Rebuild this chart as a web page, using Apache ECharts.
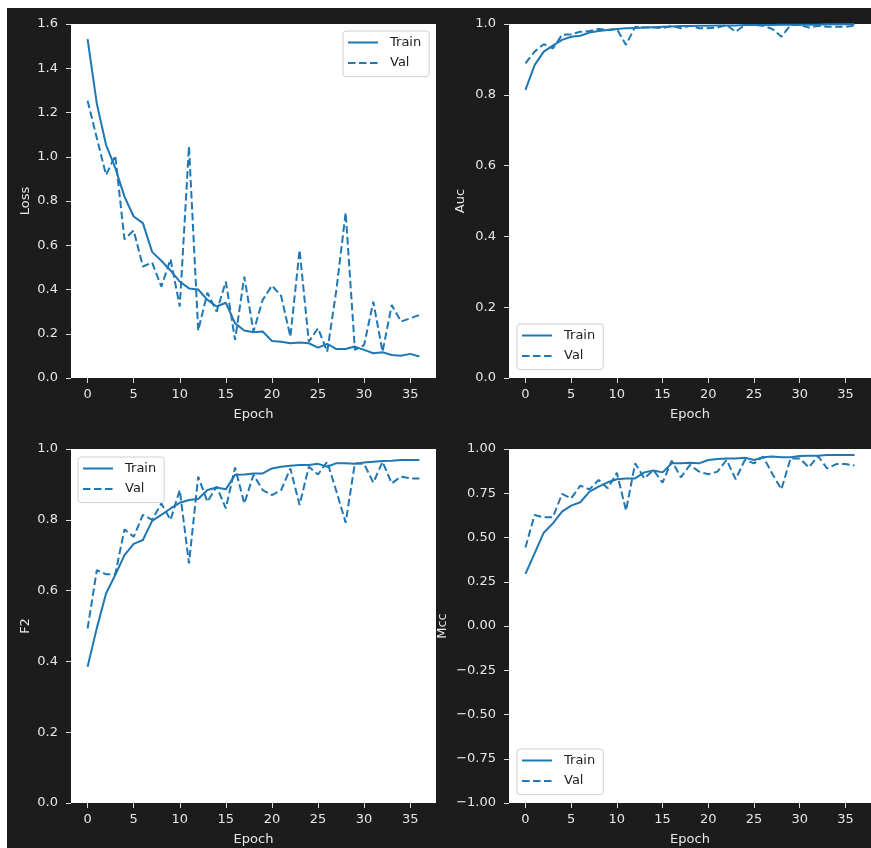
<!DOCTYPE html>
<html><head><meta charset="utf-8">
<script src="https://cdn.jsdelivr.net/npm/echarts@6/dist/echarts.min.js"></script>
<style>
html,body{margin:0;padding:0;background:#fff;}
#bg{position:absolute;left:7px;top:8px;width:864px;height:840px;background:#1c1c1c;}
#chart{position:absolute;left:0;top:0;width:871px;height:848px;}
</style></head><body><div id="bg"></div><div id="chart"></div>
<script>
const epochs = [0,1,2,3,4,5,6,7,8,9,10,11,12,13,14,15,16,17,18,19,20,21,22,23,24,25,26,27,28,29,30,31,32,33,34,35,36];
const xTicks = [0,5,10,15,20,25,30,35];
const lossTrain = [1.532,1.24,1.054,0.95,0.82,0.73,0.70,0.57,0.53,0.486,0.436,0.405,0.40,0.353,0.323,0.34,0.247,0.215,0.207,0.21,0.167,0.164,0.157,0.16,0.157,0.137,0.154,0.131,0.131,0.142,0.127,0.112,0.116,0.104,0.101,0.109,0.097];
const lossVal = [1.253,1.085,0.918,1.005,0.627,0.667,0.504,0.522,0.413,0.537,0.323,1.047,0.214,0.386,0.30,0.436,0.172,0.458,0.21,0.353,0.418,0.371,0.187,0.579,0.164,0.225,0.119,0.40,0.748,0.127,0.149,0.345,0.119,0.33,0.255,0.27,0.285];
const aucTrain = [0.814,0.884,0.922,0.939,0.955,0.964,0.967,0.976,0.98,0.983,0.986,0.988,0.989,0.99,0.991,0.992,0.993,0.994,0.994,0.995,0.995,0.996,0.996,0.996,0.997,0.997,0.997,0.997,0.998,0.998,0.998,0.998,0.998,0.999,0.999,0.999,0.999];
const aucVal = [0.889,0.922,0.943,0.931,0.969,0.971,0.978,0.98,0.986,0.983,0.986,0.941,0.992,0.99,0.99,0.988,0.995,0.988,0.995,0.988,0.988,0.99,0.997,0.978,0.997,0.997,0.995,0.986,0.964,0.997,0.997,0.99,0.995,0.992,0.992,0.992,0.995];
const f2Train = [0.385,0.494,0.592,0.644,0.70,0.732,0.743,0.797,0.814,0.832,0.848,0.856,0.859,0.884,0.891,0.886,0.927,0.928,0.931,0.931,0.945,0.95,0.953,0.955,0.955,0.958,0.95,0.96,0.96,0.958,0.962,0.964,0.966,0.967,0.969,0.969,0.969];
const f2Val = [0.493,0.658,0.646,0.646,0.773,0.752,0.814,0.80,0.846,0.80,0.884,0.677,0.922,0.851,0.894,0.832,0.948,0.846,0.927,0.884,0.87,0.884,0.945,0.842,0.95,0.928,0.964,0.88,0.792,0.96,0.958,0.905,0.964,0.903,0.922,0.917,0.917];
const mccTrain = [0.294,0.41,0.527,0.58,0.646,0.68,0.699,0.759,0.787,0.812,0.829,0.834,0.834,0.868,0.878,0.868,0.919,0.919,0.923,0.919,0.938,0.944,0.947,0.947,0.951,0.938,0.953,0.957,0.953,0.953,0.96,0.962,0.962,0.966,0.966,0.966,0.966];
const mccVal = [0.444,0.627,0.614,0.614,0.746,0.721,0.793,0.772,0.825,0.778,0.866,0.652,0.919,0.834,0.881,0.81,0.934,0.84,0.91,0.872,0.857,0.872,0.938,0.829,0.938,0.919,0.957,0.86,0.772,0.947,0.947,0.896,0.96,0.89,0.915,0.915,0.906];
const metricNames = ['Loss','Auc','F2','Mcc'];
const seriesNames = ['Train','Val'];

const FONT = 'DejaVu Sans';
const TXT = '#e6e6e6';
const LINE = '#1f77b4';

const grids = [
  {left:71, top:24, width:365, height:354},
  {left:509, top:24, width:365, height:354},
  {left:71, top:449, width:365, height:354},
  {left:509, top:449, width:365, height:354}
];
const yRanges = [
  {min:0, max:1.6, interval:0.2, fmt:v=>v.toFixed(1), gap:39},
  {min:0, max:1, interval:0.2, fmt:v=>v.toFixed(1), gap:42},
  {min:0, max:1, interval:0.2, fmt:v=>v.toFixed(1), gap:39},
  {min:-1, max:1, interval:0.25, fmt:v=>v.toFixed(2).replace('-','\u2212'), gap:60}
];
const pairs = [[lossTrain,lossVal],[aucTrain,aucVal],[f2Train,f2Val],[mccTrain,mccVal]];
const legendPos = [
  {left:343, top:31},
  {left:517, top:324},
  {left:78, top:457},
  {left:517, top:749}
];

const option = {
  backgroundColor: 'transparent',
  animation: false,
  textStyle: {fontFamily: FONT},
  grid: grids.map(g => Object.assign({show:true, backgroundColor:'#ffffff', borderWidth:0}, g)),
  xAxis: grids.map((g,i) => ({
    type:'value', gridIndex:i, min:-1.8, max:37.8,
    name:'Epoch', nameLocation:'middle', nameGap:30,
    nameTextStyle:{color:TXT, fontSize:13, fontFamily:FONT},
    axisLine:{show:false, onZero:false},
    splitLine:{show:false},
    axisTick:{show:true, inside:false, length:5, lineStyle:{color:'#dddddd', width:1}, customValues:xTicks},
    axisLabel:{color:TXT, fontSize:13, fontFamily:FONT, margin:10, customValues:xTicks}
  })),
  yAxis: grids.map((g,i) => ({
    type:'value', gridIndex:i, min:yRanges[i].min, max:yRanges[i].max, interval:yRanges[i].interval,
    name:metricNames[i], nameLocation:'middle', nameGap:yRanges[i].gap,
    nameTextStyle:{color:TXT, fontSize:13, fontFamily:FONT},
    axisLine:{show:false, onZero:false},
    splitLine:{show:false},
    axisTick:{show:true, inside:false, length:5, lineStyle:{color:'#dddddd', width:1}},
    axisLabel:{color:TXT, fontSize:13, fontFamily:FONT, margin:13, formatter:yRanges[i].fmt, showMinLabel:true, showMaxLabel:true}
  })),
  legend: legendPos.map((p,i) => ({
    data: seriesNames, orient:'vertical', left:p.left, top:p.top,
    itemWidth:30, itemHeight:14, itemGap:7.6,
    padding:[5,8,7,4],
    backgroundColor:'#ffffff', borderColor:'#d0d0d0', borderWidth:1, borderRadius:3,
    itemStyle:{opacity:0},
    textStyle:{color:'#222222', fontSize:13, fontFamily:FONT, padding:[0,0,0,7]},
    selectedMode:false
  })),
  series: []
};
pairs.forEach((pr,i) => {
  pr.forEach((arr,j) => {
    option.series.push({
      type:'line', name:seriesNames[j], xAxisIndex:i, yAxisIndex:i,
      data: epochs.map((e,k) => [e, arr[k]]),
      symbol:'none', showSymbol:false,
      lineStyle:{color:LINE, width:2, type: j===0 ? 'solid' : [7.5,3.5]},
      itemStyle:{color:LINE},
      clip:true
    });
  });
});
const chart = echarts.init(document.getElementById('chart'), null, {renderer:'canvas'});
chart.setOption(option);
</script></body></html>
